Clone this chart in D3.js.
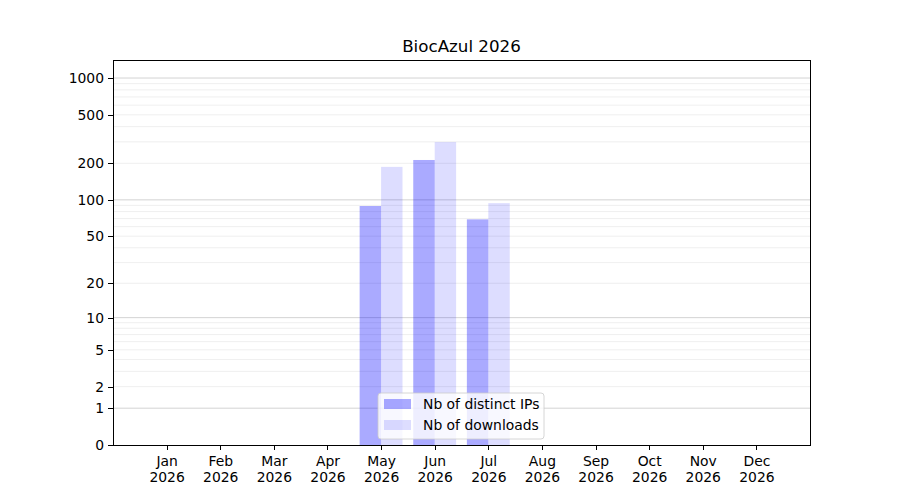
<!DOCTYPE html>
<html>
<head>
<meta charset="utf-8">
<script src="https://cdn.jsdelivr.net/npm/d3@7"></script>
<style>
  body { margin: 0; background: #fff; }
  text { font-family: "DejaVu Sans", sans-serif; }
</style>
</head>
<body>
<div id="chart"></div>
<script>
// data
const months = ["Jan", "Feb", "Mar", "Apr", "May", "Jun", "Jul", "Aug", "Sep", "Oct", "Nov", "Dec"];
const year = "2026";
const distinctIPs = [0, 0, 0, 0, 89, 213, 69, 0, 0, 0, 0, 0];
const downloads = [0, 0, 0, 0, 187, 299, 94, 0, 0, 0, 0, 0];
const yTicks = [0, 1, 2, 5, 10, 20, 50, 100, 200, 500, 1000];
const majorGrid = [1, 10, 100, 1000];
const minorGrid = [2, 3, 4, 5, 6, 7, 8, 9, 20, 30, 40, 50, 60, 70, 80, 90, 200, 300, 400, 500, 600, 700, 800, 900];

const W = 900, H = 500;
const margin = {top: 60, right: 90, bottom: 55, left: 113};
const iw = W - margin.left - margin.right,
      ih = H - margin.top - margin.bottom;
const fs = "13.9px";

const svg = d3.select("#chart").append("svg")
  .attr("width", W).attr("height", H);

const g = svg.append("g")
  .attr("transform", "translate(" + margin.left + "," + margin.top + ")");

// months sit at 1..12, axis runs 0..13
const x = d3.scaleLinear().domain([0, 13]).range([0, iw]);
const y = d3.scaleSymlog().constant(1).domain([0, 1405]).range([ih, 0]);
const barW = 0.4;

// grid
g.append("g").selectAll("line").data(minorGrid).enter().append("line")
  .attr("x1", 0).attr("x2", iw)
  .attr("y1", d => y(d)).attr("y2", d => y(d))
  .attr("stroke", "#ebebeb").attr("stroke-width", 0.8);
g.append("g").selectAll("line").data(majorGrid).enter().append("line")
  .attr("x1", 0).attr("x2", iw)
  .attr("y1", d => y(d)).attr("y2", d => y(d))
  .attr("stroke", "#c8c8c8").attr("stroke-width", 0.8);

// bars
g.append("g").selectAll("rect").data(distinctIPs).enter().append("rect")
  .attr("x", (d, i) => x(i + 1 - barW))
  .attr("width", x(barW) - x(0))
  .attr("y", d => y(d))
  .attr("height", d => y(0) - y(d))
  .attr("fill", "blue").attr("fill-opacity", 0.333);

g.append("g").selectAll("rect").data(downloads).enter().append("rect")
  .attr("x", (d, i) => x(i + 1))
  .attr("width", x(barW) - x(0))
  .attr("y", d => y(d))
  .attr("height", d => y(0) - y(d))
  .attr("fill", "blue").attr("fill-opacity", 0.133);

// axes
const yAxis = g.append("g")
  .call(d3.axisLeft(y).tickValues(yTicks).tickFormat(d3.format("d")).tickSize(5).tickPadding(4));
const xAxis = g.append("g")
  .attr("transform", "translate(0," + ih + ")")
  .call(d3.axisBottom(x).tickValues(d3.range(1, 13)).tickFormat("").tickSize(5));

[yAxis, xAxis].forEach(a => {
  a.select(".domain").remove();
  a.selectAll("line").attr("stroke", "#000").attr("stroke-width", 1).attr("shape-rendering", "crispEdges");
  a.selectAll("text").attr("font-size", fs).attr("fill", "#000");
});

xAxis.selectAll(".tick").append("text")
  .attr("text-anchor", "middle").attr("font-size", fs).attr("fill", "#000")
  .each(function(d) {
    const t = d3.select(this);
    t.append("tspan").attr("x", 0).attr("y", 21).text(months[d - 1]);
    t.append("tspan").attr("x", 0).attr("y", 37).text(year);
  });

// frame
g.append("rect").attr("width", iw).attr("height", ih)
  .attr("fill", "none").attr("stroke", "#000").attr("stroke-width", 1)
  .attr("shape-rendering", "crispEdges");

// title
svg.append("text")
  .attr("x", margin.left + iw / 2).attr("y", 52)
  .attr("text-anchor", "middle").attr("font-size", "16.7px")
  .text("BiocAzul " + year);

// legend
const legend = g.append("g").attr("transform", "translate(" + (378 - margin.left) + "," + (393 - margin.top) + ")");
legend.append("rect").attr("width", 166).attr("height", 46).attr("rx", 3)
  .attr("fill", "#fff").attr("fill-opacity", 0.8)
  .attr("stroke", "#ccc").attr("stroke-width", 0.8);
const items = [["Nb of distinct IPs", 0.333], ["Nb of downloads", 0.133]];
items.forEach((it, i) => {
  legend.append("rect").attr("x", 6).attr("y", 6 + i * 21).attr("width", 27).attr("height", 10)
    .attr("fill", "blue").attr("fill-opacity", it[1]);
  legend.append("text").attr("x", 45).attr("y", 16 + i * 21)
    .attr("font-size", fs).text(it[0]);
});
</script>
</body>
</html>
